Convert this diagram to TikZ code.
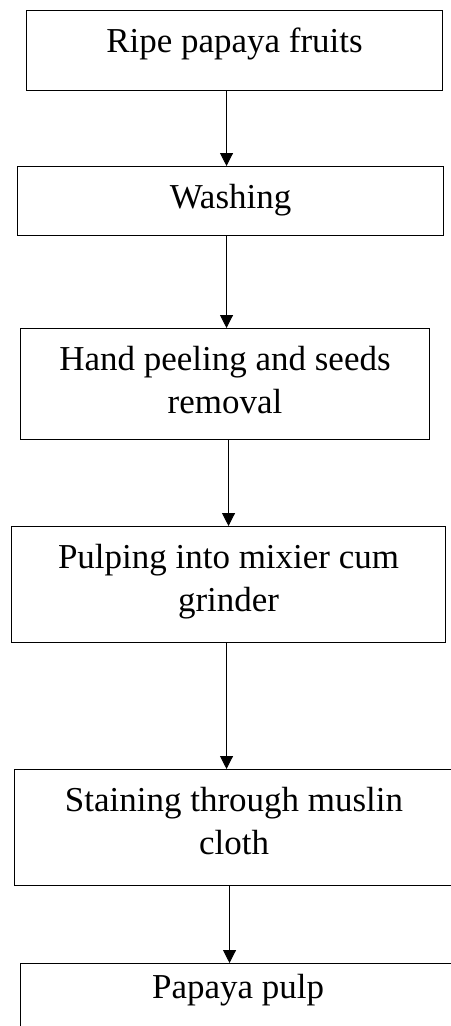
\documentclass[tikz,border=0pt]{standalone}
\usepackage{fontspec}
\setmainfont{Liberation Serif}
\usetikzlibrary{arrows.meta}
\begin{document}
\begin{tikzpicture}[x=1cm,y=1cm,font=\fontsize{19.9}{24.5}\selectfont,
    stepbox/.style={draw=black,line width=0.6pt,inner sep=0pt,anchor=north west,
      text height=0.84cm,align=center},
    flow/.style={line width=0.5pt,-{Triangle[length=0.26cm,width=0.26cm]}}]
  \useasboundingbox[fill=white] (0,0) rectangle (9,-20.52);
  \node[stepbox,minimum width=8.32cm,text depth=0.76cm] (ripe) at (0.52,-0.20)
    {Ripe papaya fruits};
  \node[stepbox,minimum width=8.52cm,text depth=0.54cm] (wash) at (0.34,-3.32)
    {Washing};
  % two-line boxes: height counts to the last baseline
  \node[stepbox,minimum width=8.18cm,text height=1.70cm,text depth=0.52cm] (peel)
    at (0.40,-6.56) {Hand peeling and seeds\\removal};
  \node[stepbox,minimum width=8.68cm,text height=1.70cm,text depth=0.62cm] (pulping)
    at (0.22,-10.52) {Pulping into mixier cum\\grinder};
  \node[stepbox,minimum width=8.78cm,text height=1.70cm,text depth=0.62cm] (strain)
    at (0.28,-15.38) {Staining through muslin\\cloth};
  \node[stepbox,minimum width=8.70cm,text height=0.70cm,text depth=0.84cm] (pulp)
    at (0.40,-19.26) {Papaya pulp};
  % arrows, a little off the box centres as in the sheet
  \draw[flow] ([xshift=-0.16cm]ripe.south) -- ([xshift=-0.16cm]ripe.south |- wash.north);
  \draw[flow] ([xshift=-0.08cm]wash.south) -- ([xshift=-0.08cm]wash.south |- peel.north);
  \draw[flow] ([xshift=0.07cm]peel.south) -- ([xshift=0.07cm]peel.south |- pulping.north);
  \draw[flow] ([xshift=-0.04cm]pulping.south) -- ([xshift=-0.04cm]pulping.south |- strain.north);
  \draw[flow] ([xshift=-0.09cm]strain.south) -- ([xshift=-0.09cm]strain.south |- pulp.north);
\end{tikzpicture}
\end{document}
